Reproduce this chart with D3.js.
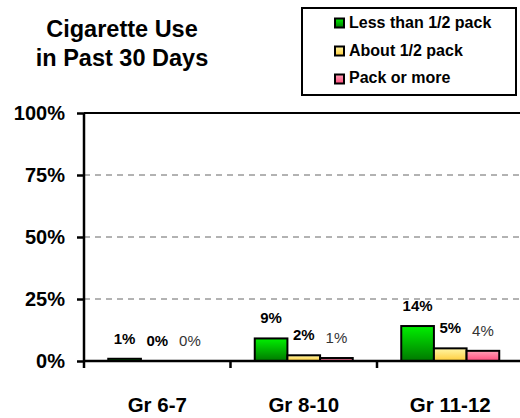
<!DOCTYPE html>
<html>
<head>
<meta charset="utf-8">
<script src="https://cdn.jsdelivr.net/npm/d3@7"></script>
<style>
  html, body { margin: 0; padding: 0; background: #fff; }
  svg { display: block; font-family: "Liberation Sans", Arial, sans-serif; }
</style>
</head>
<body>
<svg id="chart" width="520" height="418"></svg>
<script>
const categories = ["Gr 6-7", "Gr 8-10", "Gr 11-12"];
const seriesNames = ["Less than 1/2 pack", "About 1/2 pack", "Pack or more"];
const lessThanHalf = [0.9, 9.1, 14.1];
const aboutHalf = [0.2, 2.3, 5.1];
const packOrMore = [0.1, 1.2, 4.1];
const yTicks = [0, 25, 50, 75, 100];
const titleLines = ["Cigarette Use", "in Past 30 Days"];

const seriesValues = [lessThanHalf, aboutHalf, packOrMore];
const svg = d3.select("#chart");

const defs = svg.append("defs");
const grads = [
  ["g0", "#00f000", "#007800"],
  ["g1", "#fff6a6", "#ffcc3a"],
  ["g2", "#ffa0b6", "#ff4c7c"]
];
grads.forEach(([id, c1, c2]) => {
  const g = defs.append("linearGradient").attr("id", id)
    .attr("x1", 0).attr("y1", 0).attr("x2", 0).attr("y2", 1);
  g.append("stop").attr("offset", "0%").attr("stop-color", c1);
  g.append("stop").attr("offset", "100%").attr("stop-color", c2);
});

const x0 = 84, catW = 146.5;
const x = d3.scaleBand().domain(categories).range([x0, x0 + catW * categories.length]).padding(0);
const xs = d3.scaleBand().domain(d3.range(seriesNames.length)).range([24.25, catW - 24.25]).padding(0);
const y = d3.scaleLinear().domain([0, 100]).range([361, 113]);

// gridlines
svg.append("g").selectAll("line").data(yTicks.filter(t => t > 0 && t < 100)).join("line")
  .attr("x1", x0).attr("x2", 520).attr("y1", d => y(d)).attr("y2", d => y(d))
  .attr("stroke", "#666").attr("stroke-width", 1).attr("stroke-dasharray", "6,5");
// top line
svg.append("line").attr("x1", x0).attr("x2", 520).attr("y1", y(100)).attr("y2", y(100))
  .attr("stroke", "#000").attr("stroke-width", 2);

// bars
const bars = svg.append("g");
categories.forEach((c, ci) => {
  seriesValues.forEach((vals, si) => {
    const v = vals[ci];
    const h = y(0) - y(v);
    if (h >= 1) {
      bars.append("rect")
        .attr("x", x(c) + xs(si))
        .attr("y", y(v))
        .attr("width", xs.bandwidth())
        .attr("height", h)
        .attr("fill", `url(#g${si})`)
        .attr("stroke", "#000").attr("stroke-width", 2);
    }
    bars.append("text")
      .attr("x", x(c) + xs(si) + xs.bandwidth() / 2)
      .attr("y", y(v) - 15)
      .attr("text-anchor", "middle")
      .attr("font-size", 15)
      .attr("font-weight", si < 2 ? "bold" : "normal")
      .attr("fill", si < 2 ? "#000" : "#333")
      .text(Math.round(v) + "%");
  });
});

// y axis
const yAxis = svg.append("g").attr("transform", `translate(${x0},0)`)
  .call(d3.axisLeft(y).tickValues(yTicks).tickFormat(d => d + "%").tickSize(7).tickPadding(12));
yAxis.select(".domain").attr("stroke-width", 2.5).attr("d", `M0,${y(100)}V${y(0)}`);
yAxis.selectAll(".tick line").attr("stroke-width", 2.5);
yAxis.selectAll(".tick text").attr("font-size", 20).attr("font-weight", "bold")
  .attr("fill", "#000").attr("font-family", "Liberation Sans, Arial, sans-serif");

// x axis
const xAxis = svg.append("g").attr("transform", `translate(0,${y(0)})`)
  .call(d3.axisBottom(x).tickSize(0).tickPadding(36));
xAxis.select(".domain").attr("stroke-width", 2.5).attr("d", `M${x0},0H520`);
xAxis.selectAll(".tick text").attr("font-size", 20.5).attr("font-weight", "bold")
  .attr("fill", "#000").attr("font-family", "Liberation Sans, Arial, sans-serif");
// category boundary ticks
xAxis.append("g").selectAll("line").data(categories).join("line")
  .attr("x1", d => x(d)).attr("x2", d => x(d)).attr("y1", 0).attr("y2", 7)
  .attr("stroke", "#000").attr("stroke-width", 2.5);

// title
svg.append("text").attr("x", 122).attr("y", 37).attr("text-anchor", "middle")
  .attr("font-size", 23.5).attr("font-weight", "bold")
  .selectAll("tspan").data(titleLines).join("tspan")
  .attr("x", 122).attr("dy", (d, i) => i === 0 ? 0 : 29).text(d => d);

// legend
const lg = svg.append("g");
lg.append("rect").attr("x", 302).attr("y", 8).attr("width", 214).attr("height", 87)
  .attr("fill", "#fff").attr("stroke", "#000").attr("stroke-width", 2);
seriesNames.forEach((n, i) => {
  lg.append("rect").attr("x", 335).attr("y", 18.5 + i * 28).attr("width", 9).attr("height", 9)
    .attr("fill", `url(#g${i})`).attr("stroke", "#000").attr("stroke-width", 2);
  lg.append("text").attr("x", 349).attr("y", 28 + i * 27.5)
    .attr("font-size", 16).attr("font-weight", "bold").text(n);
});
</script>
</body>
</html>
